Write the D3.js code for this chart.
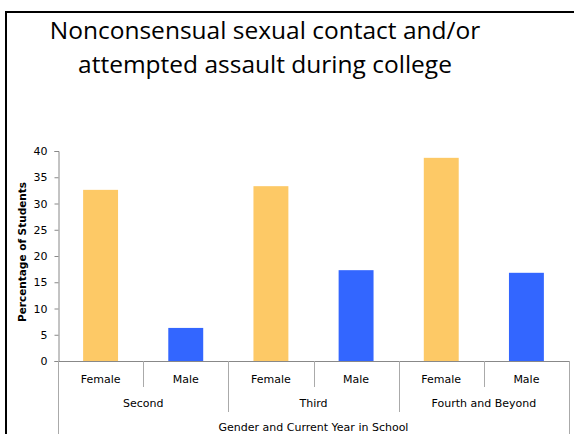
<!DOCTYPE html>
<html><head><meta charset="utf-8">
<script src="https://cdn.jsdelivr.net/npm/d3@7/dist/d3.min.js"></script>
<style>html,body{margin:0;background:#fff;overflow:hidden;}svg{display:block;}</style>
</head><body>
<script>
const titleLines = ["Nonconsensual sexual contact and/or", "attempted assault during college"];
const groups = ["Second", "Third", "Fourth and Beyond"];
const genders = ["Female", "Male"];
const values = [32.6, 6.3, 33.3, 17.3, 38.7, 16.8];
const yTicks = [0, 5, 10, 15, 20, 25, 30, 35, 40];
const yTitle = "Percentage of Students";
const xTitle = "Gender and Current Year in School";
const colors = {Female: "#FDC966", Male: "#3366FF"};

(function () {
const W = 574, H = 434;
const svg = d3.select("body").append("svg").attr("width", W).attr("height", H);
const tickFont = "'DejaVu Sans', Verdana, sans-serif";

// frame (left and top edges only)
svg.append("path").attr("d", `M6,${H} L6,12 L${W},12`)
  .attr("fill", "none").attr("stroke", "#000").attr("stroke-width", 2);

// title
svg.append("g").selectAll("text").data(titleLines).join("text")
  .attr("x", 265).attr("y", (d, i) => 39 + i * 34)
  .attr("text-anchor", "middle").attr("font-family", "'Open Sans', Lato, sans-serif")
  .attr("font-size", 24.5).attr("fill", "#000").text(d => d);

const data = [];
groups.forEach((g, gi) => genders.forEach((s, si) => data.push({group: g, gender: s, value: values[gi * 2 + si], key: g + "|" + s})));

const mLeft = 58, mRight = 569, mTop = 151, mBottom = 361;
const x = d3.scaleBand().domain(data.map(d => d.key)).range([mLeft, mRight]).paddingInner(0).paddingOuter(0);
const y = d3.scaleLinear().domain([0, 40]).range([mBottom, mTop]);
const bw = x.bandwidth() * 0.41;

// bars
svg.append("g").selectAll("rect").data(data).join("rect")
  .attr("x", d => x(d.key) + (x.bandwidth() - bw) / 2)
  .attr("y", d => y(d.value))
  .attr("width", bw)
  .attr("height", d => y(0) - y(d.value))
  .attr("fill", d => colors[d.gender]);

// y axis
const yAxis = svg.append("g").attr("transform", `translate(${mLeft + 0.5},0)`)
  .call(d3.axisLeft(y).tickValues(yTicks).tickSize(4).tickPadding(7));
yAxis.selectAll("path, line").attr("stroke", "#888");
yAxis.selectAll("text").attr("font-family", tickFont).attr("font-size", 11).attr("fill", "#000");

// x axis baseline
svg.append("line").attr("x1", mLeft).attr("x2", mRight).attr("y1", mBottom + 0.5).attr("y2", mBottom + 0.5)
  .attr("stroke", "#888").attr("stroke-width", 1);

// category separators
const bandsStarts = data.map(d => x(d.key)).concat([mRight]);
svg.append("g").selectAll("line").data(bandsStarts).join("line")
  .attr("x1", d => Math.round(d) + 0.5).attr("x2", d => Math.round(d) + 0.5)
  .attr("y1", mBottom).attr("y2", (d, i) => (i === 0 || i === bandsStarts.length - 1) ? H : (i % 2 === 0) ? 412 : 387)
  .attr("stroke", "#aaa").attr("stroke-width", 1);

// gender labels
svg.append("g").selectAll("text").data(data).join("text")
  .attr("x", d => x(d.key) + x.bandwidth() / 2).attr("y", 383)
  .attr("text-anchor", "middle").attr("font-family", tickFont)
  .attr("font-size", 11).attr("fill", "#000").text(d => d.gender);

// group labels
svg.append("g").selectAll("text").data(groups).join("text")
  .attr("x", g => x(g + "|Female") + x.bandwidth())
  .attr("y", 407)
  .attr("text-anchor", "middle").attr("font-family", tickFont)
  .attr("font-size", 11).attr("fill", "#000").text(d => d);

// x title
svg.append("text").attr("x", (mLeft + mRight) / 2).attr("y", 431)
  .attr("text-anchor", "middle").attr("font-family", tickFont)
  .attr("font-size", 11).attr("fill", "#000").text(xTitle);

// y title
svg.append("text").attr("transform", `translate(26,252) rotate(-90)`)
  .attr("text-anchor", "middle").attr("font-family", tickFont)
  .attr("font-weight", "bold").attr("font-size", 10.5).attr("fill", "#000").text(yTitle);
})();
</script>
</body></html>
